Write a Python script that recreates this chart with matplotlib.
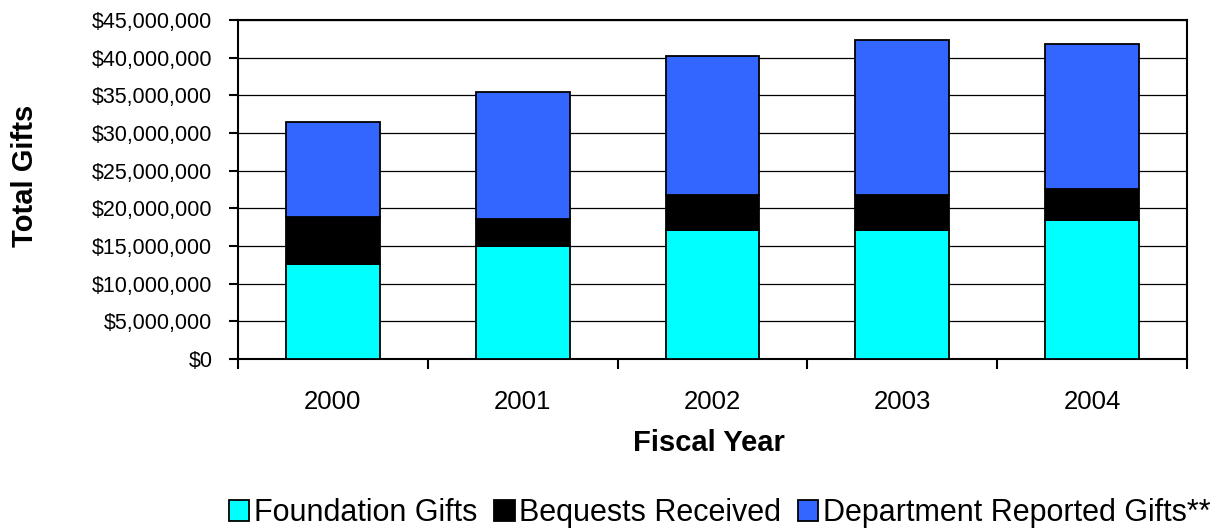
import numpy as np
import matplotlib
matplotlib.use("Agg")
import matplotlib.pyplot as plt
from matplotlib.ticker import FuncFormatter, FixedLocator

plt.rcParams['font.family'] = ['Liberation Sans', 'DejaVu Sans']

# data
years = ['2000', '2001', '2002', '2003', '2004']
foundation = [12.58e6, 14.96e6, 17.08e6, 17.08e6, 18.40e6]
bequests = [6.31e6, 3.66e6, 4.72e6, 4.72e6, 4.20e6]
department = [12.61e6, 16.86e6, 18.45e6, 20.56e6, 19.24e6]
labels = ['Foundation Gifts', 'Bequests Received', 'Department Reported Gifts**']
colors = ['#00FFFF', '#000000', '#3366FF']

fig = plt.figure(figsize=(12.23, 5.29), dpi=100)
ax = fig.add_axes([238 / 1223, 1 - 359 / 529, (1187 - 238) / 1223, (359 - 20) / 529])

x = np.arange(len(years))
w = 0.495
b1 = ax.bar(x, foundation, w, color=colors[0], edgecolor='black', linewidth=1.3, label=labels[0], zorder=3)
b2 = ax.bar(x, bequests, w, bottom=foundation, color=colors[1], edgecolor='black', linewidth=1.3,
            label=labels[1], zorder=3)
bottom2 = np.array(foundation) + np.array(bequests)
b3 = ax.bar(x, department, w, bottom=bottom2, color=colors[2], edgecolor='black', linewidth=1.3,
            label=labels[2], zorder=3)

ax.set_xlim(-0.5, len(years) - 0.5)
ax.set_ylim(0, 45e6)
ax.set_yticks(np.arange(0, 45e6 + 1, 5e6))
ax.yaxis.set_major_formatter(FuncFormatter(lambda v, p: '${:,.0f}'.format(v)))
ax.yaxis.grid(True, color='black', linewidth=0.9, zorder=0)

ax.set_xticks(x)
ax.set_xticklabels(years)
ax.xaxis.set_minor_locator(FixedLocator(np.arange(-0.5, len(years), 1.0)))
ax.tick_params(axis='x', which='major', length=0, pad=22, labelsize=18.5)
ax.tick_params(axis='x', which='minor', length=7, width=1.5, direction='out')
ax.tick_params(axis='y', which='major', length=6.5, width=1.5, direction='out', pad=12, labelsize=15.5)

for s in ax.spines.values():
    s.set_linewidth(1.5)

fig.text(25 / 1223, 1 - 176 / 529, 'Total Gifts', rotation=90, fontsize=21, fontweight='bold',
         ha='center', va='center')
fig.text(709 / 1223, 1 - 443 / 529, 'Fiscal Year', fontsize=21, fontweight='bold',
         ha='center', va='center')

fig.legend(handles=[b1, b2, b3], labels=labels, loc='center', bbox_to_anchor=(720 / 1223, 1 - 513 / 529),
           ncol=3, frameon=False, fontsize=22, handlelength=0.66, handleheight=0.66,
           handletextpad=0.16, columnspacing=0.55, borderpad=0, borderaxespad=0)

fig.savefig('out.png', dpi=100)
